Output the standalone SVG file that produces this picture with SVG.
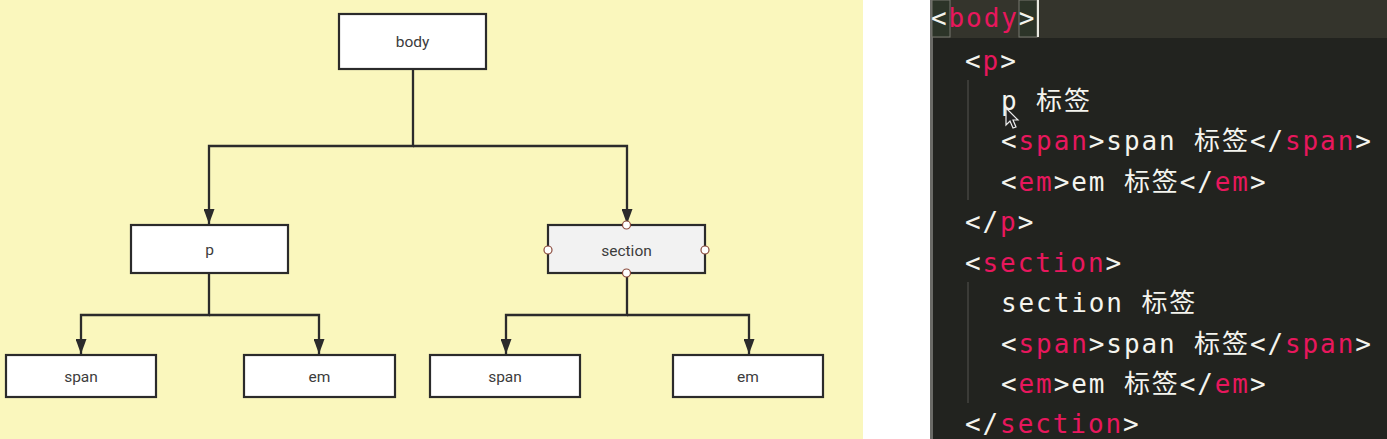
<svg xmlns="http://www.w3.org/2000/svg" width="1387" height="439" viewBox="0 0 1387 439">
<defs>
<style>
.node rect{fill:#ffffff;stroke:#2b2b2b;stroke-width:2.2}
.node text{font-family:Roboto,"Liberation Sans",sans-serif;font-size:15.5px;fill:#3c3c3c;text-anchor:middle}
.conn path{fill:none;stroke:#2b2b2b;stroke-width:2.3}
.handle{fill:#ffffff;stroke:#8a4a3c;stroke-width:1.2}
.code{font-family:"DejaVu Sans Mono","Noto Sans CJK SC",monospace;font-size:26px;letter-spacing:1.9px;fill:#f4f4ee}
.tag{fill:#e8175d}
.guide{stroke:#444440;stroke-width:1.5}
</style>
<marker id="arr" viewBox="0 0 15 11" refX="15" refY="5.5" markerWidth="15" markerHeight="11" markerUnits="userSpaceOnUse" orient="auto">
<path d="M0,0 L15,5.5 L0,11 Z" fill="#2b2b2b"/>
</marker>
</defs>
<rect x="0" y="0" width="863" height="439" fill="#faf7bd"/>
<rect x="863" y="0" width="67" height="439" fill="#ffffff"/>
<rect x="930" y="0" width="457" height="439" fill="#22231f"/>
<rect x="930" y="0" width="457" height="38" fill="#34342c"/>
<rect x="930" y="0" width="3" height="439" fill="#6a6a66"/>

<g id="connectors" class="conn">
<path d="M413,69 V146 H209 V224" marker-end="url(#arr)"/>
<path d="M413,146 H627 V224" marker-end="url(#arr)"/>
<path d="M209,273 V315 H81 V354" marker-end="url(#arr)"/>
<path d="M209,315 H319 V354" marker-end="url(#arr)"/>
<path d="M627,273 V315 H506 V354" marker-end="url(#arr)"/>
<path d="M627,315 H749 V354" marker-end="url(#arr)"/>
</g>

<g id="node-body" class="node"><rect x="339" y="14" width="147" height="55"/><text x="412.5" y="47">body</text></g>
<g id="node-p" class="node"><rect x="131" y="225" width="157" height="48"/><text x="209.5" y="255">p</text></g>
<g id="node-section" class="node"><rect x="548" y="225" width="157" height="48" style="fill:#f2f2f2"/><text x="626.5" y="256">section</text>
<circle class="handle" cx="626.5" cy="225" r="4"/><circle class="handle" cx="548" cy="250" r="4"/><circle class="handle" cx="705" cy="250" r="4"/><circle class="handle" cx="626.5" cy="273" r="4"/></g>
<g id="node-span1" class="node"><rect x="6" y="355" width="150" height="42"/><text x="81" y="382">span</text></g>
<g id="node-em1" class="node"><rect x="244" y="355" width="151" height="42"/><text x="319.5" y="382">em</text></g>
<g id="node-span2" class="node"><rect x="430" y="355" width="150" height="42"/><text x="505" y="382">span</text></g>
<g id="node-em2" class="node"><rect x="673" y="355" width="150" height="42"/><text x="748" y="382">em</text></g>

<g id="editor">
<rect x="932" y="0" width="18" height="37" fill="#2c3428" stroke="#77776f" stroke-width="1"/>
<rect x="1019" y="0" width="18" height="37" fill="#2c3428" stroke="#77776f" stroke-width="1"/>
<line x1="1038" y1="0" x2="1038" y2="37" stroke="#e8e8e0" stroke-width="2"/>
<line class="guide" x1="968" y1="80" x2="968" y2="200"/>
<line class="guide" x1="968" y1="282" x2="968" y2="403"/>
<text class="code" x="931" y="27">&lt;<tspan class="tag">body</tspan>&gt;</text>
<text class="code" x="965" y="70">&lt;<tspan class="tag">p</tspan>&gt;</text>
<text class="code" x="1001" y="110">p 标签</text>
<text class="code" x="1001" y="150">&lt;<tspan class="tag">span</tspan>&gt;span 标签&lt;/<tspan class="tag">span</tspan>&gt;</text>
<text class="code" x="1001" y="191">&lt;<tspan class="tag">em</tspan>&gt;em 标签&lt;/<tspan class="tag">em</tspan>&gt;</text>
<text class="code" x="965" y="231">&lt;/<tspan class="tag">p</tspan>&gt;</text>
<text class="code" x="965" y="272">&lt;<tspan class="tag">section</tspan>&gt;</text>
<text class="code" x="1001" y="312">section 标签</text>
<text class="code" x="1001" y="353">&lt;<tspan class="tag">span</tspan>&gt;span 标签&lt;/<tspan class="tag">span</tspan>&gt;</text>
<text class="code" x="1001" y="393">&lt;<tspan class="tag">em</tspan>&gt;em 标签&lt;/<tspan class="tag">em</tspan>&gt;</text>
<text class="code" x="965" y="433">&lt;/<tspan class="tag">section</tspan>&gt;</text>
<path d="M1006,108 L1006,125 L1010,121 L1013,128 L1016,127 L1013,120 L1018,120 Z" fill="#222" stroke="#eee" stroke-width="1.2"/>
</g>
</svg>
